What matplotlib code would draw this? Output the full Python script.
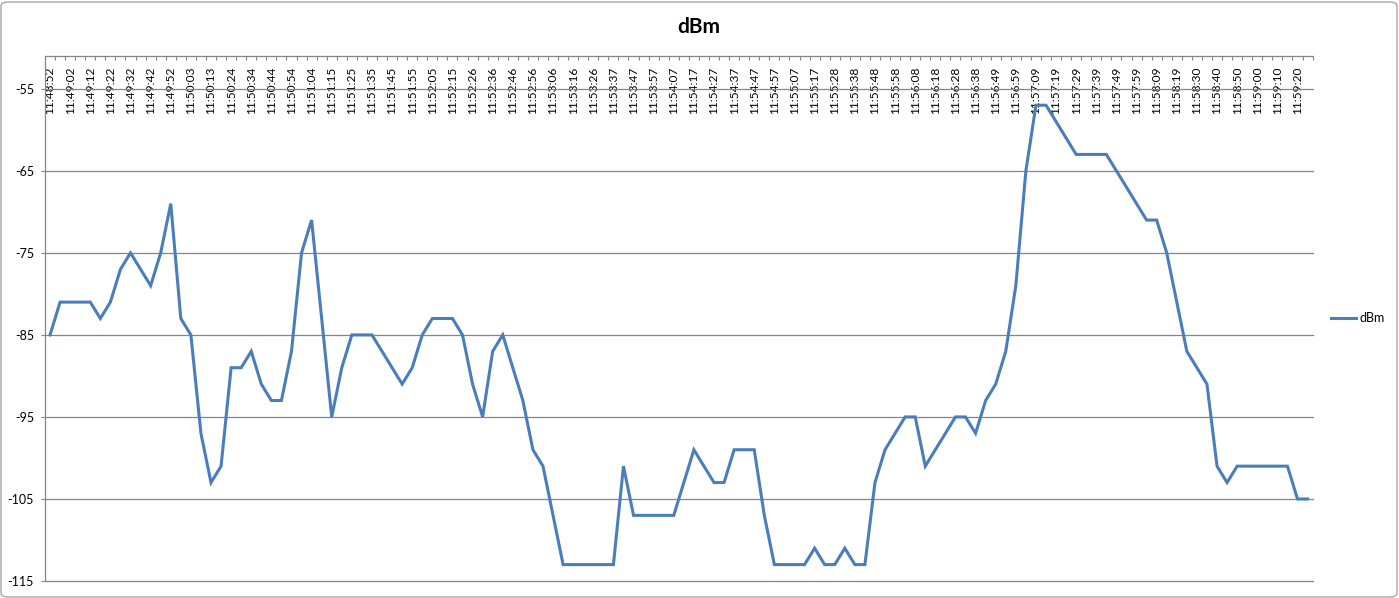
import numpy as np
import matplotlib
matplotlib.use("Agg")
import matplotlib.pyplot as plt
from matplotlib.patches import FancyBboxPatch

plt.rcParams['font.family'] = ['Lato', 'DejaVu Sans']
plt.rcParams['axes.unicode_minus'] = False

# ---- data ----
tick_labels = [
    "11:48:52", "11:49:02", "11:49:12", "11:49:22", "11:49:32", "11:49:42", "11:49:52",
    "11:50:03", "11:50:13", "11:50:24", "11:50:34", "11:50:44", "11:50:54", "11:51:04",
    "11:51:15", "11:51:25", "11:51:35", "11:51:45", "11:51:55", "11:52:05", "11:52:15",
    "11:52:26", "11:52:36", "11:52:46", "11:52:56", "11:53:06", "11:53:16", "11:53:26",
    "11:53:37", "11:53:47", "11:53:57", "11:54:07", "11:54:17", "11:54:27", "11:54:37",
    "11:54:47", "11:54:57", "11:55:07", "11:55:17", "11:55:28", "11:55:38", "11:55:48",
    "11:55:58", "11:56:08", "11:56:18", "11:56:28", "11:56:38", "11:56:49", "11:56:59",
    "11:57:09", "11:57:19", "11:57:29", "11:57:39", "11:57:49", "11:57:59", "11:58:09",
    "11:58:19", "11:58:30", "11:58:40", "11:58:50", "11:59:00", "11:59:10", "11:59:20",
]

dbm = [
    -85, -81, -81, -81, -81, -83, -81, -77, -75, -77,
    -79, -75, -69, -83, -85, -97, -103, -101, -89, -89,
    -87, -91, -93, -93, -87, -75, -71, -83, -95, -89,
    -85, -85, -85, -87, -89, -91, -89, -85, -83, -83,
    -83, -85, -91, -95, -87, -85, -89, -93, -99, -101,
    -107, -113, -113, -113, -113, -113, -113, -101, -107, -107,
    -107, -107, -107, -103, -99, -101, -103, -103, -99, -99,
    -99, -107, -113, -113, -113, -113, -111, -113, -113, -111,
    -113, -113, -103, -99, -97, -95, -95, -101, -99, -97,
    -95, -95, -97, -93, -91, -87, -79, -65, -57, -57,
    -59, -61, -63, -63, -63, -63, -65, -67, -69, -71,
    -71, -75, -81, -87, -89, -91, -101, -103, -101, -101,
    -101, -101, -101, -101, -105, -105,
]

y_ticks = [-115, -105, -95, -85, -75, -65, -55]
series_name = "dBm"

# ---- figure ----
W, H = 1399, 598
fig = plt.figure(figsize=(W / 100, H / 100), dpi=100)
fig.patch.set_facecolor("white")

left, right, top, bottom = 45, 1312.6, 56, 581
ax = fig.add_axes([left / W, 1 - bottom / H, (right - left) / W, (bottom - top) / H])

n = len(dbm)
x = np.arange(n)
line, = ax.plot(x, dbm, color="#4A7EBB", lw=2.2, solid_joinstyle="miter",
                label=series_name, zorder=3)

ax.set_xlim(-0.5, n - 0.5)
ax.set_ylim(-115, -51)

grid_c = "#868686"
ax.set_yticks(y_ticks)
ax.set_yticklabels([str(v) for v in y_ticks])
ax.yaxis.grid(True, color=grid_c, lw=0.9)
for gl in ax.get_ygridlines():
    gl.set_clip_on(False)
ax.set_axisbelow(True)

for s in ["right", "bottom"]:
    ax.spines[s].set_visible(False)
for s in ["left", "top"]:
    ax.spines[s].set_color(grid_c)
    ax.spines[s].set_linewidth(0.9)

ax.tick_params(axis="y", which="major", direction="out", length=3, color=grid_c,
               labelsize=9, pad=5, labelcolor="black")

ax.xaxis.set_ticks_position("top")
major_pos = np.arange(0, n, 2)[:len(tick_labels)]
ax.set_xticks(major_pos)
ax.set_xticklabels(tick_labels, rotation=90, va="top", ha="center", fontsize=8.6)
ax.set_xticks(np.arange(-0.5, n, 1), minor=True)
ax.tick_params(axis="x", which="major", length=0, top=True, bottom=False,
               labeltop=True, labelbottom=False, pad=-7.5)
ax.tick_params(axis="x", which="minor", direction="in", length=3.2, color=grid_c,
               width=0.8, top=True, bottom=False)

fig.text(698.5 / W, 1 - 27 / H, "dBm", ha="center", va="center",
         fontsize=15, fontweight="bold")

leg = fig.legend(handles=[line], labels=[series_name], loc="center left",
                 bbox_to_anchor=(1331 / W, 1 - 318.5 / H), frameon=False,
                 fontsize=9, handlelength=2.0, handletextpad=0.3,
                 borderaxespad=0, borderpad=0)

border = FancyBboxPatch((1 / W, 1 / H), (W - 3) / W, (H - 3) / H,
                        boxstyle="round,pad=0,rounding_size=0.006",
                        transform=fig.transFigure, fill=False,
                        edgecolor="#A6A6A6", lw=1.0)
fig.patches.append(border)

fig.savefig("out.png", dpi=100)
